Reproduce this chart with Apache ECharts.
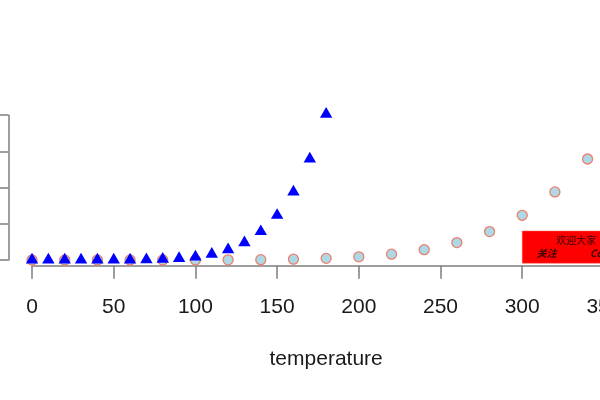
<!DOCTYPE html>
<html>
<head>
<meta charset="utf-8">
<script src="https://cdn.jsdelivr.net/npm/echarts@6/dist/echarts.min.js"></script>
<style>html,body{margin:0;padding:0;background:#fff;}#c{width:600px;height:400px;}</style>
</head>
<body>
<div id="c"></div>
<script>
// circles: temperature vs pressure
const temperature = [0,20,40,60,80,100,120,140,160,180,200,220,240,260,280,300,320,340,360];
const pressure = [0.0002,0.0012,0.006,0.03,0.09,0.27,0.75,1.85,4.2,8.8,17.3,32.1,57,96,157,247,376,558,806];
// triangles: half temperature vs pressure
const halfTemperature = [0,10,20,30,40,50,60,70,80,90,100,110,120,130,140,150,160,170,180];
// tick labels
const xTicks = [0,50,100,150,200,250,300,350];
const yTicks = [0,200,400,600,800];
// red box
const boxX = [300, 420];
const boxY = [-18, 160];
// annotations
const noteText = ['欢迎大家', '关注', 'Co'];
const noteX = [333, 315, 341.5];
const noteY = [110, 39, 39];

const chart = echarts.init(document.getElementById('c'), null, {renderer: 'canvas'});
const axisGray = '#7f7f7f';
const font = 'Liberation Sans, Arial, sans-serif';

const circleData = temperature.map((t, i) => [t, pressure[i]]);
const triData = halfTemperature.map((t, i) => [t, pressure[i]]);
const noteStyles = [
  {fontWeight: 'normal', fontStyle: 'normal', align: 'center'},
  {fontWeight: 'bold', fontStyle: 'italic', align: 'center'},
  {fontWeight: 'bold', fontStyle: 'italic', align: 'left'}
];
const noteData = noteText.map((s, i) => ({
  value: [noteX[i], noteY[i]],
  name: s,
  label: {
    show: true, position: 'inside', formatter: s,
    color: '#000', fontSize: 10,
    fontFamily: 'Noto Sans CJK SC, sans-serif',
    fontWeight: noteStyles[i].fontWeight,
    fontStyle: noteStyles[i].fontStyle,
    align: noteStyles[i].align,
    verticalAlign: 'middle'
  }
}));

chart.setOption({
  animation: false,
  backgroundColor: '#fff',
  grid: [
    {left: 8.5, top: 108.3, width: 635.3, height: 157.5, outerBoundsMode: 'none', containLabel: false},
    {left: 32, top: 108.3, width: 571.9, height: 157.5, outerBoundsMode: 'none', containLabel: false},
    {left: 8.5, top: 115.2, width: 100, height: 144.8, outerBoundsMode: 'none', containLabel: false}
  ],
  xAxis: [
    {gridIndex: 0, type: 'value', min: -14.4, max: 374.4,
     axisLine: {show: false}, axisTick: {show: false}, axisLabel: {show: false}, splitLine: {show: false},
     name: 'temperature', nameLocation: 'middle', nameGap: 83,
     nameTextStyle: {fontSize: 21, color: '#1a1a1a', fontFamily: font}},
    {gridIndex: 1, type: 'value', min: xTicks[0], max: xTicks[xTicks.length - 1], interval: 50,
     axisLine: {show: true, lineStyle: {color: axisGray, width: 1.5}},
     axisTick: {show: true, length: 13, lineStyle: {color: axisGray, width: 1.5}},
     axisLabel: {show: true, margin: 31, fontSize: 21, color: '#1a1a1a', fontFamily: font,
                 showMinLabel: true, showMaxLabel: true},
     splitLine: {show: false}},
    {gridIndex: 2, type: 'value', show: false}
  ],
  yAxis: [
    {gridIndex: 0, type: 'value', min: -32.24, max: 838.24, show: false},
    {gridIndex: 1, type: 'value', show: false},
    {gridIndex: 2, type: 'value', min: yTicks[0], max: yTicks[yTicks.length - 1], interval: 200,
     axisLine: {show: true, lineStyle: {color: axisGray, width: 1.5}},
     axisTick: {show: true, length: 10, lineStyle: {color: axisGray, width: 1.5}},
     axisLabel: {show: false}, splitLine: {show: false}}
  ],
  series: [
    {
      type: 'scatter', xAxisIndex: 0, yAxisIndex: 0,
      data: circleData, symbol: 'circle', symbolSize: 10,
      itemStyle: {color: '#add8e6', borderColor: '#ec7f6e', borderWidth: 1.3, opacity: 1},
      markArea: {
        silent: true,
        itemStyle: {color: '#ff0000', borderColor: '#ff6060', borderWidth: 0.5},
        data: [[{coord: [boxX[0], boxY[0]]}, {coord: [boxX[1], boxY[1]]}]]
      }
    },
    {
      type: 'scatter', xAxisIndex: 0, yAxisIndex: 0,
      data: triData, symbol: 'triangle', symbolSize: [12.4, 10.7], symbolOffset: [0, -1.8],
      itemStyle: {color: '#0000ff', opacity: 1}
    },
    {
      type: 'scatter', xAxisIndex: 0, yAxisIndex: 0, z: 5,
      data: noteData, symbol: 'circle', symbolSize: 1,
      itemStyle: {color: 'rgba(0,0,0,0)'}
    }
  ]
});
</script>
</body>
</html>
